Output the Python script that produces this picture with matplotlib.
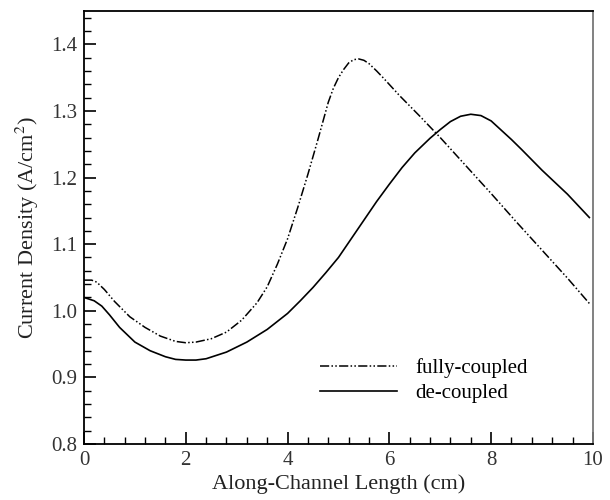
import matplotlib.pyplot as plt
from matplotlib.ticker import MultipleLocator

# --------- data ---------
x_full = [0, 0.15, 0.25, 0.4, 0.6, 0.9, 1.2, 1.5, 1.8, 2.0, 2.2, 2.5, 2.8, 3.1,
          3.4, 3.6, 3.8, 4.0, 4.2, 4.4, 4.6, 4.8, 4.9, 5.0, 5.1, 5.2, 5.3,
          5.4, 5.5, 5.6, 5.75, 5.9, 6.2, 6.6, 7.0, 7.5, 8.0, 8.5, 9.0, 9.5, 9.93]
y_full = [1.046, 1.046, 1.043, 1.032, 1.014, 0.991, 0.975, 0.962, 0.954, 0.952,
          0.953, 0.958, 0.968, 0.986, 1.012, 1.036, 1.07, 1.108, 1.155, 1.205,
          1.258, 1.313, 1.334, 1.35, 1.362, 1.372, 1.377, 1.378, 1.376, 1.371,
          1.36, 1.348, 1.323, 1.292, 1.26, 1.218, 1.176, 1.133, 1.091, 1.049, 1.011]

x_dec = [0, 0.2, 0.35, 0.5, 0.7, 1.0, 1.3, 1.6, 1.8, 2.0, 2.2, 2.4, 2.8, 3.2,
         3.6, 4.0, 4.25, 4.5, 4.75, 5.0, 5.25, 5.5, 5.75, 6.0, 6.25, 6.5, 6.8,
         7.0, 7.2, 7.4, 7.6, 7.8, 8.0, 8.2, 8.4, 8.6, 9.0, 9.5, 9.93]
y_dec = [1.02, 1.015, 1.007, 0.994, 0.975, 0.953, 0.94, 0.931, 0.927, 0.926,
         0.926, 0.928, 0.938, 0.953, 0.972, 0.996, 1.015, 1.035, 1.057, 1.08,
         1.108, 1.136, 1.164, 1.19, 1.215, 1.237, 1.259, 1.272, 1.284, 1.292,
         1.295, 1.293, 1.285, 1.271, 1.257, 1.242, 1.211, 1.175, 1.14]

plt.rcParams['font.family'] = ['Liberation Serif', 'DejaVu Serif']
plt.rcParams['mathtext.fontset'] = 'stix'

fig = plt.figure(figsize=(6.1, 5.0), dpi=100)
ax = fig.add_axes([0.1377, 0.112, 0.8343, 0.866])

ax.plot(x_full, y_full, color='black', linewidth=1.1,
        linestyle=(0, (6, 1.5, 1, 1.5, 1, 1.5)), label='fully-coupled')
ax.plot(x_dec, y_dec, color='black', linewidth=1.2, label='de-coupled')

ax.set_xlim(0, 10)
ax.set_ylim(0.8, 1.45)
ax.xaxis.set_major_locator(MultipleLocator(2))
ax.xaxis.set_minor_locator(MultipleLocator(0.4))
ax.yaxis.set_major_locator(MultipleLocator(0.1))
ax.yaxis.set_minor_locator(MultipleLocator(0.02))
ax.yaxis.set_major_formatter(plt.FuncFormatter(lambda v, p: f"{v:.1f}"))
ax.xaxis.set_major_formatter(plt.FuncFormatter(lambda v, p: f"{v:.0f}"))

ax.tick_params(which='both', direction='in', top=False, right=False,
               labelsize=15, colors='black', labelcolor='#333333')
ax.tick_params(which='major', length=8.5, width=1.2, pad=5)
ax.tick_params(which='minor', length=5, width=1.0)
for s in ax.spines.values():
    s.set_linewidth(1.3)
ax.spines['right'].set_color('#777777')

ax.set_xlabel('Along-Channel Length (cm)', fontsize=16, color='#222222', labelpad=3)
ax.set_ylabel('Current Density (A/cm$^2$)', fontsize=16, color='#222222', labelpad=7)

leg = ax.legend(loc='lower left', bbox_to_anchor=(0.464, 0.095), frameon=False,
                fontsize=15, handlelength=3.7, handletextpad=0.87,
                labelspacing=0.25, borderpad=0, borderaxespad=0)

fig.savefig('out.png', dpi=100)
